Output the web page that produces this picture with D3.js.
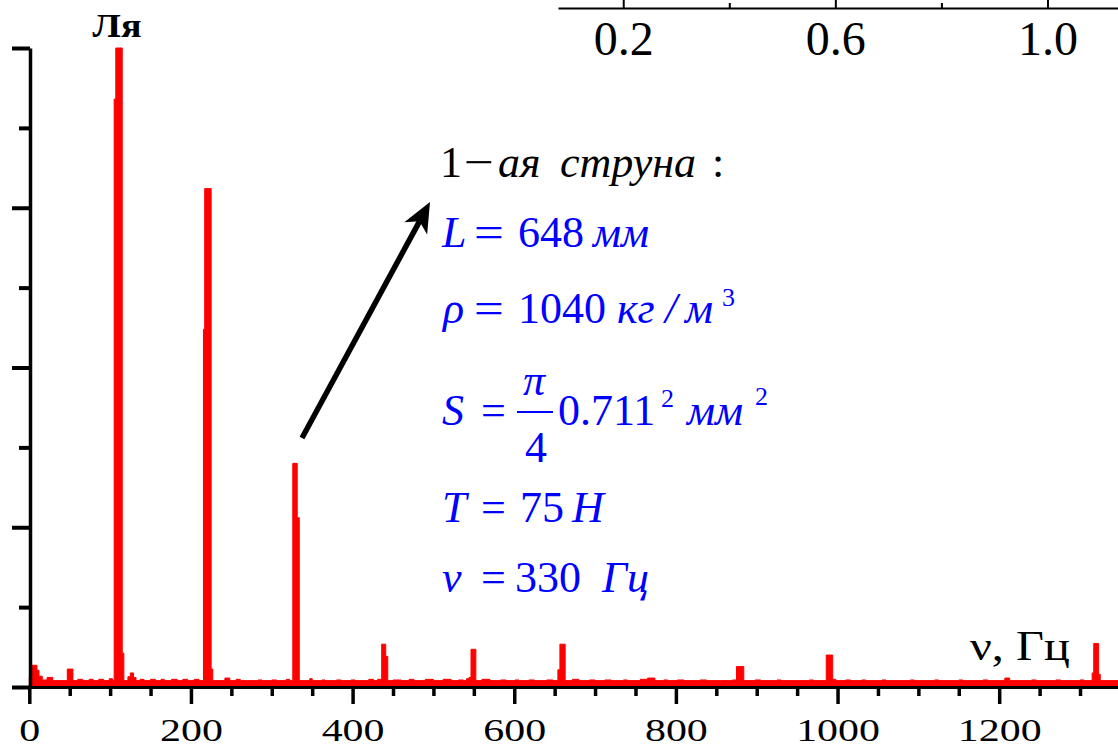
<!DOCTYPE html>
<html>
<head>
  <meta charset="utf-8">
  <title>Спектр 1-ой струны</title>
  <script src="https://d3js.org/d3.v7.min.js"></script>
  <style>
    body { margin: 0; background: #fff; }
    svg text { font-family: "Liberation Serif", "Times New Roman", serif; }
    .axis path, .axis line { stroke: #000; }
    .axis text { fill: #000; }
    .formula text { fill: #0000ff; font-size: 44px; }
    .title text { fill: #000; font-size: 44px; }
  </style>
</head>
<body>
  <svg id="chart" width="1118" height="753"></svg>

  <script>
    // Spectrum: step breakpoints (frequency in Hz, relative amplitude)
    const freqHz = [
      0, 3, 9.5, 12, 16, 22, 29, 47, 54, 60, 66, 74, 79, 86, 92, 99, 103,
      105, 107, 115, 117, 122, 125, 129, 132, 137, 142, 150, 156, 163, 167, 176, 183, 190, 196, 204, 210,
      215.5, 217, 225, 227, 236, 242, 248, 256, 261, 270, 283, 288, 300, 306, 318, 322,
      326, 331.5, 334, 347, 350, 362, 366, 380, 386, 398, 403, 420, 426, 431,
      436, 441, 443.5, 450, 460, 470, 476, 490, 500, 512, 522, 531, 537, 541,
      544, 546.5, 552.5, 560, 570, 583, 590, 601, 606, 618, 625, 640, 648,
      654, 656.5, 663, 672, 680, 693, 700, 712, 720, 735, 740, 756, 765, 774, 785, 790, 802, 810, 830, 838, 855, 870,
      875, 884, 898, 905, 925, 930, 950, 965, 970,
      986, 994, 998, 1010, 1016, 1030, 1035, 1055, 1060, 1090, 1095, 1120, 1125, 1150, 1155, 1180, 1186,
      1207, 1213, 1240, 1246, 1270, 1276, 1300, 1305,
      1315, 1317, 1323, 1325, 1347
    ];
    const amplitude = [
      0.015, 0.034, 0.026, 0.017, 0.011, 0.015, 0.010, 0.028, 0.010, 0.012, 0.010, 0.012, 0.010, 0.012, 0.010, 0.013, 0.010,
      0.92, 1.0, 0.053, 0.010, 0.016, 0.022, 0.015, 0.010, 0.012, 0.010, 0.012, 0.010, 0.012, 0.010, 0.012, 0.010, 0.012, 0.010, 0.012, 0.010,
      0.56, 0.78, 0.028, 0.010, 0.010, 0.014, 0.010, 0.012, 0.010, 0.010, 0.011, 0.010, 0.011, 0.010, 0.012, 0.010,
      0.35, 0.265, 0.010, 0.013, 0.010, 0.011, 0.010, 0.011, 0.010, 0.011, 0.010, 0.012, 0.010, 0.012,
      0.067, 0.048, 0.010, 0.011, 0.010, 0.012, 0.010, 0.012, 0.010, 0.012, 0.010, 0.011, 0.010, 0.013,
      0.015, 0.059, 0.010, 0.012, 0.010, 0.011, 0.010, 0.011, 0.010, 0.011, 0.010, 0.011, 0.010,
      0.027, 0.067, 0.010, 0.012, 0.010, 0.011, 0.010, 0.011, 0.010, 0.011, 0.010, 0.012, 0.014, 0.010, 0.011, 0.010, 0.011, 0.010, 0.011, 0.010, 0.010, 0.011,
      0.032, 0.010, 0.011, 0.010, 0.011, 0.010, 0.010, 0.011, 0.010,
      0.050, 0.012, 0.010, 0.011, 0.010, 0.011, 0.010, 0.011, 0.010, 0.011, 0.010, 0.011, 0.010, 0.011, 0.010, 0.011, 0.010,
      0.014, 0.010, 0.011, 0.010, 0.011, 0.010, 0.011, 0.010,
      0.022, 0.068, 0.020, 0.010, 0.010
    ];

    // Tick labels of the frequency axis and of the cut-off axis at the top
    const xTickLabels = [0, 200, 400, 600, 800, 1000, 1200];
    const insetTickLabels = [0.2, 0.6, 1.0];
    const insetMinorTicks = [0.4, 0.8];

    const serif = '"Liberation Serif", "Times New Roman", serif';
    const svg = d3.select("#chart");

    // Scales (pixel frame)
    const x = d3.scaleLinear().domain([0, 1347]).range([29.3, 1118]);
    const y = d3.scaleLinear().domain([0, 1]).range([687, 48]);

    const spectrum = freqHz.map((fr, i) => ({ f: fr, a: amplitude[i] }));

    // Red spectrum, drawn as a filled step curve
    const area = d3.area()
      .x(d => x(d.f))
      .y0(y(0))
      .y1(d => y(d.a))
      .curve(d3.curveStepAfter);

    svg.append("path")
      .datum(spectrum)
      .attr("d", area)
      .attr("fill", "#ff0000")
      .attr("stroke", "#ff0000")
      .attr("stroke-width", 1);

    // Frequency axis: major ticks with labels, minor ticks every 50 Hz
    const minorX = d3.range(50, 1347, 50).filter(v => v % 200 !== 0);

    svg.append("g")
      .attr("class", "axis")
      .attr("transform", `translate(0,${y(0)})`)
      .call(d3.axisBottom(x).tickValues(minorX).tickSize(9).tickSizeOuter(0).tickFormat(""))
      .call(g => g.selectAll("line").attr("stroke-width", 3.5))
      .call(g => g.select(".domain").remove());

    const xAxis = svg.append("g")
      .attr("class", "axis")
      .attr("transform", `translate(0,${y(0)})`)
      .call(d3.axisBottom(x).tickValues(xTickLabels).tickSize(17).tickSizeOuter(0).tickFormat(d3.format("d")))
      .attr("font-family", serif);
    xAxis.select(".domain").attr("stroke-width", 3);
    xAxis.selectAll("line").attr("stroke-width", 3.5);
    xAxis.selectAll("text")
      .attr("y", 54)
      .attr("dy", 0)
      .attr("font-size", 32.5)
      .attr("transform", "scale(1.29,1)");

    // Amplitude axis (no labels in the picture)
    const yAxis = svg.append("g")
      .attr("class", "axis")
      .attr("transform", "translate(30,0)")
      .call(d3.axisLeft(y).tickValues([0, 0.25, 0.5, 0.75, 1]).tickSize(18).tickSizeOuter(0).tickFormat(""));
    yAxis.select(".domain").attr("stroke-width", 3.5);
    yAxis.selectAll("line").attr("stroke-width", 4);

    svg.append("g")
      .attr("class", "axis")
      .attr("transform", "translate(30,0)")
      .call(d3.axisLeft(y).tickValues([0.125, 0.375, 0.625, 0.875]).tickSize(11).tickFormat(""))
      .call(g => g.select(".domain").remove())
      .call(g => g.selectAll("line").attr("stroke-width", 4));

    // Axis of the neighbouring plot cut off at the top
    const xi = d3.scaleLinear().domain([0.077, 1.133]).range([558, 1118]);

    const inset = svg.append("g")
      .attr("class", "axis")
      .attr("transform", "translate(0,8)")
      .call(d3.axisBottom(xi).tickValues(insetTickLabels).tickSize(-8).tickSizeOuter(0).tickFormat(d3.format(".1f")))
      .attr("font-family", serif);
    inset.select(".domain").attr("stroke-width", 2);
    inset.selectAll("line").attr("stroke-width", 2);
    inset.selectAll("text")
      .attr("y", 47)
      .attr("dy", 0)
      .attr("font-size", 48);

    svg.append("g")
      .attr("class", "axis")
      .attr("transform", "translate(0,8)")
      .call(d3.axisBottom(xi).tickValues(insetMinorTicks).tickSize(-5).tickFormat(""))
      .call(g => g.select(".domain").remove())
      .call(g => g.selectAll("line").attr("stroke-width", 2));

    // "Ля" over the fundamental
    svg.append("text")
      .attr("transform", "translate(117,37) scale(1.12,1)")
      .attr("text-anchor", "middle")
      .attr("font-size", 34)
      .attr("font-weight", "bold")
      .text("Ля");

    // Axis name
    svg.append("text")
      .attr("transform", "translate(970,660) scale(1.15,1)")
      .attr("font-size", 42)
      .text("ν, Гц");

    // Arrow from the third harmonic to the string parameters
    const tail = [302, 438], tip = [430, 202];
    const len = Math.hypot(tip[0] - tail[0], tip[1] - tail[1]);
    const u = [(tip[0] - tail[0]) / len, (tip[1] - tail[1]) / len];
    const p = [-u[1], u[0]];
    const base = [tip[0] - 30 * u[0], tip[1] - 30 * u[1]];
    const notch = [tip[0] - 22 * u[0], tip[1] - 22 * u[1]];

    svg.append("line")
      .attr("x1", tail[0]).attr("y1", tail[1])
      .attr("x2", notch[0]).attr("y2", notch[1])
      .attr("stroke", "#000")
      .attr("stroke-width", 5.5);

    svg.append("path")
      .attr("d", d3.line()([
        tip,
        [base[0] + 13 * p[0], base[1] + 13 * p[1]],
        notch,
        [base[0] - 13 * p[0], base[1] - 13 * p[1]]
      ]) + "Z")
      .attr("fill", "#000");

    // Text block: helper to place one piece of a formula
    function piece(g, str, px, py, opts) {
      opts = opts || {};
      const t = g.append("text")
        .attr("x", px)
        .attr("y", py)
        .text(str);
      if (opts.italic) t.attr("font-style", "italic");
      if (opts.size) t.style("font-size", opts.size + "px");
      if (opts.anchor) t.attr("text-anchor", opts.anchor);
      if (opts.width) t.attr("textLength", opts.width).attr("lengthAdjust", "spacingAndGlyphs");
      return t;
    }

    const title = svg.append("g").attr("class", "title");
    piece(title, "1", 440, 177);
    piece(title, "−", 464, 177, { width: 30 });
    piece(title, "ая", 498, 177, { italic: true });
    piece(title, "струна", 560, 177, { italic: true });
    piece(title, ":", 712, 177);

    const f = svg.append("g").attr("class", "formula");

    // L = 648 мм
    piece(f, "L", 442, 247, { italic: true });
    piece(f, "=", 474, 247, { width: 30 });
    piece(f, "648", 518, 247);
    piece(f, "мм", 593, 247, { italic: true });

    // ρ = 1040 кг / м³
    piece(f, "ρ", 443, 323, { italic: true });
    piece(f, "=", 474, 323, { width: 30 });
    piece(f, "1040", 518, 323);
    piece(f, "кг", 617, 323, { italic: true });
    piece(f, "/", 665, 323, { italic: true });
    piece(f, "м", 685, 323, { italic: true });
    piece(f, "3", 722, 306, { size: 26 });

    // S = π/4 · 0.711² мм²
    piece(f, "S", 442, 425, { italic: true });
    piece(f, "=", 481, 425);
    piece(f, "π", 534, 395, { italic: true, anchor: "middle" });
    f.append("line")
      .attr("x1", 517).attr("x2", 553)
      .attr("y1", 412).attr("y2", 412)
      .attr("stroke", "#0000ff")
      .attr("stroke-width", 2);
    piece(f, "4", 536, 462, { anchor: "middle" });
    piece(f, "0.711", 558, 425);
    piece(f, "2", 661, 407, { size: 26 });
    piece(f, "мм", 687, 425, { italic: true });
    piece(f, "2", 755, 405, { size: 26 });

    // T = 75 H
    piece(f, "T", 442, 522, { italic: true });
    piece(f, "=", 481, 522);
    piece(f, "75", 520, 522);
    piece(f, "H", 572, 522, { italic: true });

    // ν = 330 Гц
    piece(f, "ν", 442, 592, { italic: true });
    piece(f, "=", 481, 592);
    piece(f, "330", 515, 592);
    piece(f, "Гц", 602, 592, { italic: true });
  </script>
</body>
</html>
